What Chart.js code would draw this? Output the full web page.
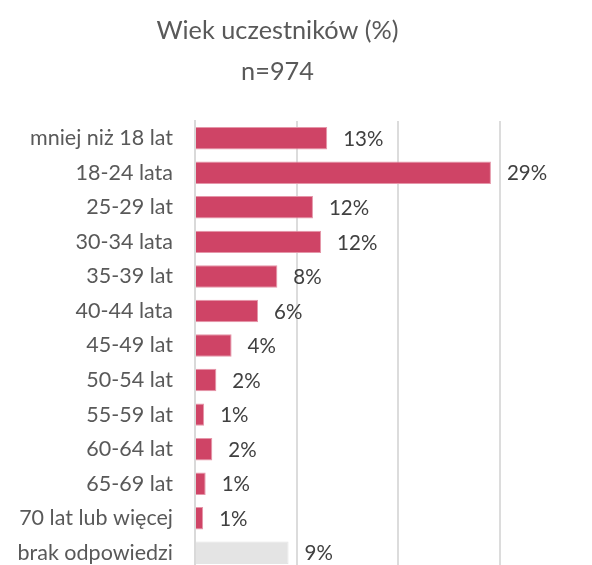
<!DOCTYPE html>
<html>
<head>
<meta charset="utf-8">
<script src="https://cdn.jsdelivr.net/npm/chart.js@4/dist/chart.umd.min.js"></script>
<style>
  html, body { margin: 0; padding: 0; background: #fff; overflow: hidden; }
  #wrap { width: 592px; height: 565px; overflow: hidden; }
</style>
</head>
<body>
<div id="wrap"><canvas id="myChart" width="592" height="605"></canvas></div>
<script>
// dane
var categories = ['mniej niż 18 lat', '18-24 lata', '25-29 lat', '30-34 lata', '35-39 lat', '40-44 lata',
  '45-49 lat', '50-54 lat', '55-59 lat', '60-64 lat', '65-69 lat', '70 lat lub więcej', 'brak odpowiedzi'];
var values = [13.0, 29.1, 11.6, 12.4, 8.1, 6.2, 3.6, 2.1, 0.9, 1.7, 1.05, 0.8, 9.2];
var xTicks = [0, 10, 20, 30];

var barColors = values.map(function (v, i) {
  return i == categories.length - 1 ? '#e4e4e4' : '#cf4466';
});
var borderColors = values.map(function (v, i) {
  return i == categories.length - 1 ? '#e4e4e4' : '#e596a9';
});

// etykiety z procentami przy słupkach
var valueLabels = {
  id: 'valueLabels',
  afterDatasetsDraw: function (chart) {
    var c = chart.ctx;
    var meta = chart.getDatasetMeta(0);
    c.save();
    c.font = '20.5px Lato';
    c.fillStyle = '#404040';
    c.textAlign = 'left';
    c.textBaseline = 'middle';
    meta.data.forEach(function (bar, i) {
      c.fillText(Math.round(values[i]) + '%', bar.x + 16, bar.y + 1);
    });
    c.restore();
  }
};

var ctx = document.getElementById('myChart').getContext('2d');
var myChart = new Chart(ctx, {
  type: 'bar',
  data: {
    labels: categories,
    datasets: [{
      data: values,
      backgroundColor: barColors,
      borderColor: borderColors,
      borderWidth: 1,
      borderSkipped: 'left',
      categoryPercentage: 1,
      barPercentage: 0.65
    }]
  },
  options: {
    indexAxis: 'y',
    responsive: false,
    animation: false,
    layout: {
      padding: { left: 0, right: 37, top: 0, bottom: 0 }
    },
    plugins: {
      legend: { display: false },
      tooltip: { enabled: false },
      title: {
        display: true,
        text: ['Wiek uczestników (%)', 'n=974'],
        color: '#595959',
        font: { family: 'Lato', size: 25.3, weight: 'normal', lineHeight: 1.62 },
        padding: { top: 10, bottom: 29 }
      }
    },
    scales: {
      x: {
        min: 0,
        max: 35.4,
        afterBuildTicks: function (scale) {
          scale.ticks = xTicks.map(function (v) { return { value: v }; });
        },
        afterFit: function (scale) { scale.height = 0; },
        ticks: { display: false },
        grid: { color: '#dcdcdc', lineWidth: 2, drawTicks: false },
        border: { display: false }
      },
      y: {
        afterFit: function (scale) { scale.width = 195; },
        ticks: {
          color: '#595959',
          font: { family: 'Lato', size: 21.5 },
          padding: 22
        },
        grid: { display: false, drawTicks: false },
        border: { display: true, color: '#d9d9d9', width: 2 }
      }
    }
  },
  plugins: [valueLabels]
});
</script>
</body>
</html>
